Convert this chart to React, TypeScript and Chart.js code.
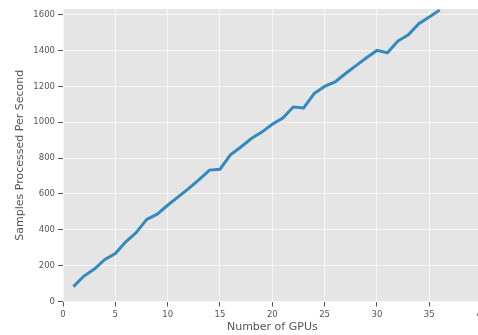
import { useEffect, useRef } from "react";
import { Chart, registerables } from "chart.js";

Chart.register(...registerables);

const gpus = [
  1, 2, 3, 4, 5, 6, 7, 8, 9, 10, 11, 12, 13, 14, 15, 16, 17, 18,
  19, 20, 21, 22, 23, 24, 25, 26, 27, 28, 29, 30, 31, 32, 33, 34, 35, 36,
];
const samplesPerSecond = [
  83, 142, 181, 235, 268, 333, 385, 458, 487, 537, 584, 630, 680, 733, 738,
  818, 862, 909, 945, 989, 1024, 1085, 1080, 1160, 1200, 1225, 1272, 1316,
  1360, 1401, 1388, 1453, 1488, 1550, 1587, 1626,
];
const xLimits = [0, 40];
const yLimits = [0, 1632];
const xTickValues = [0, 5, 10, 15, 20, 25, 30, 35, 40];
const yTickValues = [0, 200, 400, 600, 800, 1000, 1200, 1400, 1600];
const xTitle = "Number of GPUs";
const yTitle = "Samples Processed Per Second";

const plotBg = {
  id: "plotBg",
  beforeDraw(chart: any) {
    const { ctx, chartArea } = chart;
    if (!chartArea) return;
    ctx.save();
    ctx.fillStyle = "#E5E5E5";
    ctx.fillRect(
      chartArea.left,
      chartArea.top,
      chartArea.right - chartArea.left,
      chartArea.bottom - chartArea.top
    );
    ctx.restore();
  },
};

export default function App() {
  const ref = useRef<HTMLCanvasElement | null>(null);

  useEffect(() => {
    if (!ref.current) return;
    const font = "'DejaVu Sans', sans-serif";
    const chart = new Chart(ref.current, {
      type: "line",
      data: {
        datasets: [
          {
            data: gpus.map((g, i) => ({ x: g, y: samplesPerSecond[i] })),
            borderColor: "#348ABD",
            borderWidth: 3,
            pointRadius: 0,
            fill: false,
            tension: 0,
          },
        ],
      },
      options: {
        animation: false,
        responsive: false,
        layout: { padding: { top: 9, right: 8, left: 0, bottom: 0 } },
        plugins: { legend: { display: false }, tooltip: { enabled: false } },
        scales: {
          x: {
            type: "linear",
            min: xLimits[0],
            max: xLimits[1],
            afterBuildTicks: (s: any) => {
              s.ticks = xTickValues.map((v) => ({ value: v }));
            },
            afterFit: (s: any) => {
              s.height = 33.5;
            },
            ticks: {
              color: "#555555",
              padding: 3,
              maxRotation: 0,
              autoSkip: false,
              callback: (v: any) => String(v),
              font: { family: font, size: 8.5 },
            },
            grid: {
              color: "rgba(255,255,255,0.7)",
              lineWidth: 1,
              tickLength: 5,
              tickColor: "#555555",
            },
            border: { display: false },
            title: {
              display: true,
              text: xTitle,
              color: "#555555",
              padding: { top: 0, bottom: 1 },
              font: { family: font, size: 11 },
            },
          },
          y: {
            type: "linear",
            min: yLimits[0],
            max: yLimits[1],
            afterBuildTicks: (s: any) => {
              s.ticks = yTickValues.map((v) => ({ value: v }));
            },
            afterFit: (s: any) => {
              s.width = 63;
            },
            ticks: {
              color: "#555555",
              padding: 3,
              autoSkip: false,
              callback: (v: any) => String(v),
              font: { family: font, size: 8.5 },
            },
            grid: {
              color: "rgba(255,255,255,0.7)",
              lineWidth: 1,
              tickLength: 5,
              tickColor: "#555555",
            },
            border: { display: false },
            title: {
              display: true,
              text: yTitle,
              color: "#555555",
              padding: { top: 14, bottom: 0 },
              font: { family: font, size: 11 },
            },
          },
        },
      },
      plugins: [plotBg],
    });
    return () => chart.destroy();
  }, []);

  return (
    <div
      style={{
        position: "fixed",
        left: 0,
        top: 0,
        width: 478,
        height: 335,
        overflow: "hidden",
        background: "#FFFFFF",
      }}
    >
      <canvas
        ref={ref}
        width={490}
        height={335}
        style={{ display: "block", width: 490, height: 335 }}
      />
    </div>
  );
}
